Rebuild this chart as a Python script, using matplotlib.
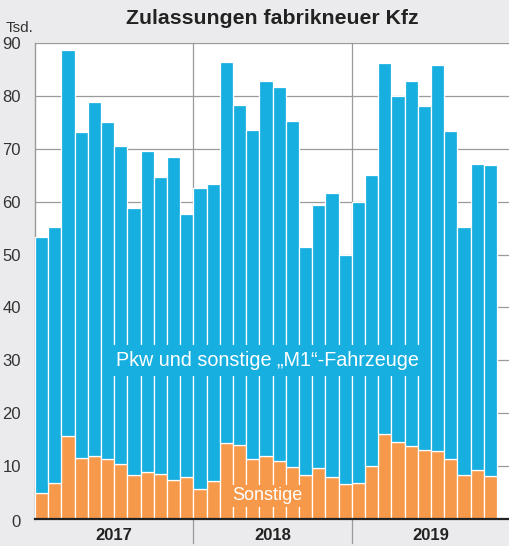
import numpy as np
import matplotlib.pyplot as plt
from matplotlib.transforms import ScaledTranslation

# Neuzulassungen je Monat in Tsd., Jan 2017 bis Nov 2019
jahre = ['2017', '2018', '2019']
gesamt = [53.4, 55.3, 88.6, 73.2, 78.9, 75.0, 70.5, 58.8, 69.6, 64.7, 68.4, 57.7,
          62.6, 63.3, 86.5, 78.3, 73.6, 82.8, 81.7, 75.3, 51.5, 59.4, 61.6, 50.0,
          59.9, 65.1, 86.2, 80.0, 82.8, 78.1, 85.8, 73.4, 55.3, 67.2, 66.9]
sonstige = [5.0, 6.9, 15.7, 11.6, 12.0, 11.3, 10.4, 8.4, 8.8, 8.6, 7.4, 7.9,
            5.7, 7.1, 14.4, 13.9, 11.4, 11.9, 11.0, 9.8, 8.3, 9.7, 8.0, 6.7,
            6.8, 10.1, 16.0, 14.6, 13.8, 13.0, 12.9, 11.4, 8.4, 9.3, 8.1]
y_ticks = [0, 10, 20, 30, 40, 50, 60, 70, 80, 90]

blau = '#16afe0'
orange = '#f6994a'
grau = '#9a9a9a'
hintergrund = '#ebebed'

plt.rcParams['font.family'] = ['Liberation Sans', 'DejaVu Sans']

gesamt = np.array(gesamt)
sonstige = np.array(sonstige)
pkw = gesamt - sonstige
x = np.arange(len(gesamt))

fig = plt.figure(figsize=(5.09, 5.46), dpi=100, facecolor=hintergrund)
ax = fig.add_axes([35 / 509, 1 - 519 / 546, 474 / 509, 476 / 546])
ax.set_facecolor('white')

ax.bar(x, sonstige, width=1.0, color=orange, edgecolor='white', linewidth=0.9, zorder=3)
ax.bar(x, pkw, bottom=sonstige, width=1.0, color=blau, edgecolor='white', linewidth=0.9, zorder=3)

ax.set_xlim(-0.5, -0.5 + 474 / 13.2)
ax.set_ylim(0, 90)

# Gitter und Jahrestrenner
ax.set_yticks(y_ticks)
ax.yaxis.grid(True, color=grau, linewidth=0.9, zorder=0)
ax.set_axisbelow(True)
for grenze in [11.5, 23.5]:
    ax.axvline(grenze, ymin=-0.05, ymax=1, color=grau, linewidth=0.9, zorder=1, clip_on=False)

ax.set_xticks([])
ax.tick_params(axis='y', length=0, pad=10, labelsize=12, labelcolor='#333333')
null_lbl = ax.get_yticklabels()[0]
null_lbl.set_transform(null_lbl.get_transform() + ScaledTranslation(0, -2 / 100, fig.dpi_scale_trans))

for side in ['top', 'right']:
    ax.spines[side].set_visible(False)
ax.spines['left'].set_color(grau)
ax.spines['left'].set_linewidth(1.0)
ax.spines['bottom'].set_color('#222222')
ax.spines['bottom'].set_linewidth(1.6)
ax.spines['bottom'].set_zorder(5)

for i, jahr in enumerate(jahre):
    ax.text(i * 12 + 5.5, -0.034, jahr, transform=ax.get_xaxis_transform(),
            ha='center', va='center', fontsize=12, fontweight='bold', color='#222222')

ax.text(17.1, 30.0, 'Pkw und sonstige \u201eM1\u201c-Fahrzeuge', ha='center', va='center',
        fontsize=14.2, color='white', zorder=6,
        bbox=dict(boxstyle='square,pad=0.3', facecolor=blau, edgecolor='none'))
ax.text(17.1, 4.35, 'Sonstige', ha='center', va='center', fontsize=13, color='white', zorder=6,
        bbox=dict(boxstyle='square,pad=0.15', facecolor=orange, edgecolor='none'))

fig.text(272 / 509, 1 - 18 / 546, 'Zulassungen fabrikneuer Kfz', ha='center', va='center',
         fontsize=15.3, fontweight='bold', color='#222222')
fig.text(6 / 509, 1 - 28 / 546, 'Tsd.', ha='left', va='center', fontsize=11, color='#333333')

fig.savefig('out.png', dpi=100, facecolor=hintergrund)
